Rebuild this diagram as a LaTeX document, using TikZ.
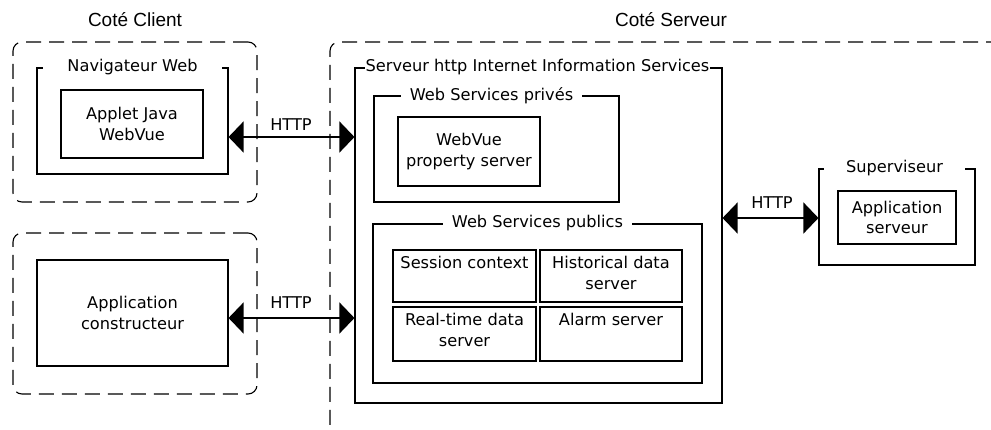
\documentclass[tikz,border=0pt]{standalone}
\usepackage{fontspec}
\setmainfont{DejaVu Sans}
\newfontfamily\titlefont{Liberation Sans}
\usetikzlibrary{arrows.meta}

\begin{document}
\begin{tikzpicture}[x=1pt,y=-1pt,
  box/.style={draw, line width=1.1pt, inner sep=0pt},
  cadre/.style={draw, line width=1.1pt, dash pattern=on 15pt off 8pt, rounded corners=9pt},
  lbl/.style={fill=white, inner ysep=1pt, font=\fontsize{16.2}{20.5}\selectfont},
  txt/.style={align=center, font=\fontsize{16.2}{20.5}\selectfont},
  titre/.style={font=\titlefont\fontsize{19}{22}\selectfont},
  http/.style={line width=1.4pt, {Triangle[length=15pt,width=31pt]}-{Triangle[length=15pt,width=31pt]}}]
\clip (0,0) rectangle (991,429);

\node[titre] (tclient) at (135,20) {Coté Client};
\node[titre] (tserveur) at (671,20) {Coté Serveur};

\node[cadre, minimum width=244pt, minimum height=160pt] (client) at (135,122) {};
\node[box, minimum width=191pt, minimum height=106pt] (nav) at (132.5,121) {};
\node[lbl, inner xsep=24pt] (navt) at (nav.north) {Navigateur Web};
\node[box, txt, minimum width=142pt, minimum height=68pt] (applet) at (132,124) {Applet Java\\WebVue};

\node[cadre, minimum width=244pt, minimum height=161pt] (client2) at (135,313.5) {};
\node[box, txt, minimum width=191pt, minimum height=106pt] (constr) at (132.5,313) {Application\\constructeur};

\node[cadre, minimum width=680pt, minimum height=392pt] (serveur) at (670,238) {};
\node[box, minimum width=367pt, minimum height=335pt] (iis) at (538.5,235.5) {};
\node[lbl, inner xsep=1pt, xshift=-1pt] (iist) at (iis.north) {Serveur http Internet Information Services};

\node[box, minimum width=245pt, minimum height=106pt] (priv) at (496.5,149) {};
\node[lbl, inner xsep=9pt, xshift=-5pt] (privt) at (priv.north) {Web Services privés};
\node[box, txt, minimum width=142pt, minimum height=69pt] (prop) at (469,151.5) {WebVue\\property server};

\node[box, minimum width=329pt, minimum height=159pt] (pub) at (537.5,303.5) {};
\node[lbl, inner xsep=9pt] (pubt) at (pub.north) {Web Services publics};
\node[box, minimum width=143pt, minimum height=52pt] (sess) at (464.5,276) {};
\node[box, minimum width=142pt, minimum height=52pt] (hist) at (611,276) {};
\node[box, minimum width=143pt, minimum height=54pt] (real) at (464.5,334) {};
\node[box, minimum width=142pt, minimum height=54pt] (alarm) at (611,334) {};
\node[txt, anchor=north, inner sep=0pt, yshift=-7pt] (sesst) at (sess.north) {Session context};
\node[txt, anchor=north, inner sep=0pt, yshift=-7pt] (histt) at (hist.north) {Historical data\\server};
\node[txt, anchor=north, inner sep=0pt, yshift=-7pt] (realt) at (real.north) {Real-time data\\server};
\node[txt, anchor=north, inner sep=0pt, yshift=-7pt] (alarmt) at (alarm.north) {Alarm server};

\node[box, minimum width=156pt, minimum height=96pt] (sup) at (897,217) {};
\node[lbl, inner xsep=22pt, xshift=-2.5pt] (supt) at (sup.north) {Superviseur};
\node[box, txt, minimum width=118pt, minimum height=53pt] (appsrv) at (897,217.5) {Application\\serveur};

\coordinate (h1) at (290,137);
\coordinate (h2) at (290,318);
\coordinate (h3) at (772,218);
\draw[http] (nav.east |- h1) -- (iis.west |- h1);
\draw[http] (constr.east |- h2) -- (iis.west |- h2);
\draw[http] (iis.east |- h3) -- (sup.west |- h3);
\node[txt] (http1) at (291,125) {HTTP};
\node[txt] (http2) at (291,303) {HTTP};
\node[txt] (http3) at (772,203) {HTTP};
\end{tikzpicture}
\end{document}
